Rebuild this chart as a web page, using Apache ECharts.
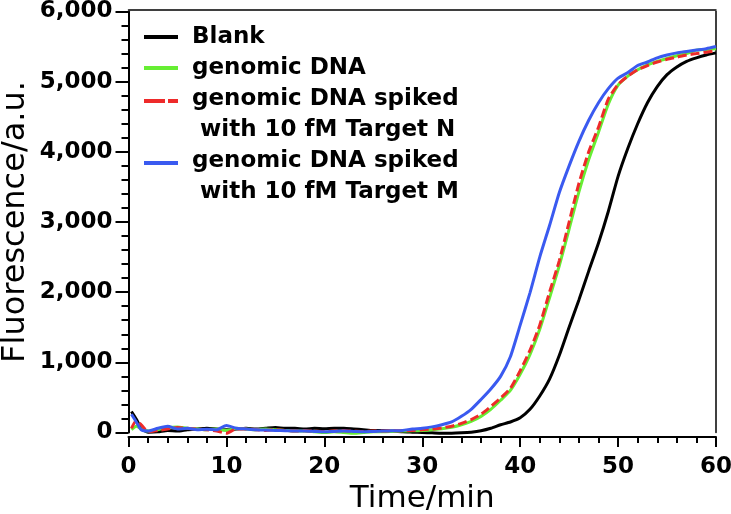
<!DOCTYPE html>
<html>
<head>
<meta charset="utf-8">
<script src="https://cdn.jsdelivr.net/npm/echarts@6/dist/echarts.min.js"></script>
<style>html,body{margin:0;padding:0;background:#fff}#c{width:731px;height:514px}</style>
</head>
<body>
<div id="c"></div>
<script>
var times = [0.3, 0.8, 1.3, 2, 3, 4, 5, 6, 7, 8, 9, 10, 11, 12, 13, 14, 15, 16, 17, 18, 19, 20, 21, 22, 23, 24, 25, 26, 27, 28, 29, 30, 31, 32, 33, 34, 35, 36, 37, 38, 39, 40, 41, 42, 43, 44, 45, 46, 47, 48, 49, 50, 51, 52, 53, 54, 55, 56, 57, 58, 59, 60];
var blank = [300, 190, 60, 5, 10, 30, 20, 40, 50, 60, 50, 40, 50, 60, 50, 60, 70, 60, 60, 50, 60, 55, 60, 60, 50, 40, 30, 30, 20, 10, 5, 0, -5, -10, -10, -5, 5, 25, 60, 110, 150, 210, 330, 520, 760, 1100, 1500, 1890, 2300, 2700, 3150, 3650, 4050, 4400, 4700, 4930, 5100, 5210, 5290, 5340, 5380, 5410];
var genomic = [40, 90, 50, 20, 40, 70, 80, 60, 50, 40, 50, 30, 60, 50, 40, 50, 40, 30, 20, 20, 10, 0, 10, 0, -10, 0, 10, 10, 15, 20, 25, 30, 40, 55, 75, 110, 160, 230, 330, 460, 600, 830, 1110, 1470, 1920, 2380, 2900, 3430, 3890, 4280, 4680, 4950, 5080, 5170, 5240, 5290, 5330, 5370, 5400, 5450, 5460, 5470];
var spikedN = [60, 170, 110, 10, 30, 50, 70, 60, 50, 40, 20, -10, 50, 50, 40, 30, 40, 30, 20, 25, 20, 15, 20, 25, 20, 15, 20, 20, 25, 25, 30, 40, 50, 65, 90, 130, 185, 260, 370, 490, 630, 880, 1170, 1530, 2000, 2450, 3000, 3550, 4000, 4350, 4750, 4960, 5080, 5170, 5230, 5280, 5320, 5350, 5380, 5400, 5420, 5440];
var spikedM = [260, 150, 40, 20, 60, 90, 50, 60, 40, 45, 40, 100, 60, 50, 40, 35, 30, 25, 20, 20, 15, 10, 15, 20, 15, 10, 15, 20, 25, 30, 50, 60, 80, 110, 150, 230, 330, 470, 620, 800, 1080, 1530, 1990, 2500, 2950, 3420, 3800, 4150, 4450, 4700, 4900, 5050, 5130, 5230, 5280, 5340, 5380, 5410, 5430, 5450, 5470, 5500];
var seriesNames = ['Blank', 'genomic DNA', 'genomic DNA spiked\n with 10 fM Target N', 'genomic DNA spiked\n with 10 fM Target M'];

function pairs(vals) { return times.map(function (t, i) { return [t, vals[i]]; }); }

var colors = ['#000000', '#66ee33', '#ee2a2a', '#3a5af0'];
var iconSingle = 'path://M0,13.5h34v4h-34zM0,0L0,0M43,31L43,31';
var iconDashTop = 'path://M0,0h21v4h-21zM24,0h10v4h-10zM0,0L0,0M43,31L43,31';
var iconTop = 'path://M0,0h34v4h-34zM0,0L0,0M43,31L43,31';

var chart = echarts.init(document.getElementById('c'));
var labelFont = { fontFamily: 'DejaVu Sans', fontWeight: 'bold', fontSize: 23, color: '#000' };
var frameAxisLine = { show: true, onZero: false, lineStyle: { color: '#000', width: 1.5 } };
chart.setOption({
  animation: false,
  grid: { left: 128.5, right: 15, top: 11.5, bottom: 81.5, containLabel: false, outerBoundsMode: 'none', show: false },
  legend: {
    orient: 'vertical', left: 144, top: 21.5, padding: 0, itemGap: 0,
    itemWidth: 43, itemHeight: 31,
    itemStyle: { borderWidth: 0 },
    textStyle: { fontFamily: 'DejaVu Sans', fontWeight: 'bold', fontSize: 23, lineHeight: 31, color: '#000' },
    data: [
      { name: seriesNames[0], icon: iconSingle },
      { name: seriesNames[1], icon: iconSingle },
      { name: seriesNames[2], icon: iconDashTop },
      { name: seriesNames[3], icon: iconTop }
    ]
  },
  xAxis: [{
    type: 'value', min: 0, max: 60, interval: 10, position: 'bottom', offset: 4.5,
    name: 'Time/min', nameLocation: 'middle', nameGap: 46, nameMoveOverlap: false,
    nameTextStyle: { fontFamily: 'DejaVu Sans', fontSize: 31, color: '#000' },
    axisLine: { onZero: false, lineStyle: { color: '#000', width: 2 } },
    axisTick: { length: 10, lineStyle: { color: '#000', width: 2 } },
    minorTick: { show: true, splitNumber: 5, length: 6, lineStyle: { color: '#000', width: 2 } },
    axisLabel: Object.assign({ margin: 19 }, labelFont),
    splitLine: { show: false }
  }, {
    type: 'value', min: 0, max: 60, interval: 10, position: 'top', offset: 1.5,
    axisLine: frameAxisLine, axisTick: { show: false }, axisLabel: { show: false }, splitLine: { show: false }
  }],
  yAxis: [{
    type: 'value', min: 0, max: 6000, interval: 1000, position: 'left',
    name: 'Fluorescence/a.u.', nameLocation: 'middle', nameGap: 97, nameMoveOverlap: false,
    nameTextStyle: { fontFamily: 'DejaVu Sans', fontSize: 32, color: '#000' },
    axisLine: { show: true, onZero: false, lineStyle: { color: '#000', width: 2 } },
    axisTick: { show: true, length: 13, lineStyle: { color: '#000', width: 2 } },
    minorTick: { show: true, splitNumber: 5, length: 7, lineStyle: { color: '#000', width: 2 } },
    axisLabel: Object.assign({ margin: 16, formatter: function (v) { return v.toLocaleString('en-US'); } }, labelFont),
    splitLine: { show: false }
  }, {
    type: 'value', min: 0, max: 6000, interval: 1000, position: 'right',
    axisLine: frameAxisLine, axisTick: { show: false }, axisLabel: { show: false }, splitLine: { show: false }
  }],
  series: [
    { name: seriesNames[0], type: 'line', xAxisIndex: 1, yAxisIndex: 1, clip: false, data: pairs(blank), showSymbol: false, smooth: 0.2, color: colors[0], lineStyle: { width: 3, color: colors[0] }, z: 2 },
    { name: seriesNames[1], type: 'line', clip: false, data: pairs(genomic), showSymbol: false, smooth: 0.2, color: colors[1], lineStyle: { width: 3, color: colors[1] }, z: 3 },
    { name: seriesNames[2], type: 'line', clip: false, data: pairs(spikedN), showSymbol: false, smooth: 0.2, color: colors[2], lineStyle: { width: 3, color: colors[2], type: [9, 4] }, z: 4 },
    { name: seriesNames[3], type: 'line', clip: false, data: pairs(spikedM), showSymbol: false, smooth: 0.2, color: colors[3], lineStyle: { width: 3, color: colors[3] }, z: 5 }
  ]
});
</script>
</body>
</html>
